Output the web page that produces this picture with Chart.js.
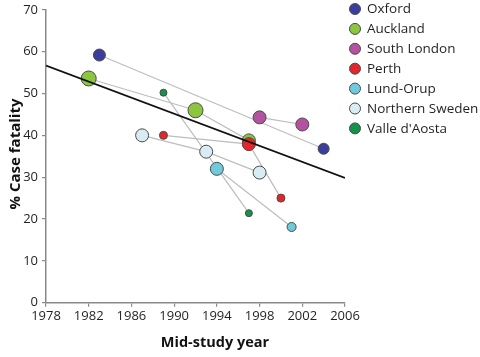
<!DOCTYPE html>
<html>
<head>
<meta charset="utf-8">
<script src="https://cdn.jsdelivr.net/npm/chart.js@4/dist/chart.umd.min.js"></script>
<style>
  html, body { margin: 0; padding: 0; background: #ffffff; }
  #wrap { width: 480px; height: 357px; }
</style>
</head>
<body>
<div id="wrap"><canvas id="c" width="480" height="357"></canvas></div>
<script>
// ---- Data ----
const seriesNames = ["Oxford", "Auckland", "South London", "Perth", "Lund-Orup", "Northern Sweden", "Valle d'Aosta"];

const oxfordYears = [1983, 2004];
const oxfordFatality = [59.2, 36.8];

const aucklandYears = [1982, 1992, 1997];
const aucklandFatality = [53.6, 46.0, 38.8];

const southLondonYears = [1998, 2002];
const southLondonFatality = [44.3, 42.6];

const perthYears = [1989, 1997, 2000];
const perthFatality = [40.0, 37.9, 25.0];

const lundYears = [1994, 2001];
const lundFatality = [32.0, 18.1];

const northSwedenYears = [1987, 1993, 1998];
const northSwedenFatality = [40.0, 36.1, 31.1];

const valleYears = [1989, 1997];
const valleFatality = [50.2, 21.4];

const trendYears = [1978, 2006];
const trendFatality = [56.7, 29.8];

const xTickValues = [1978, 1982, 1986, 1990, 1994, 1998, 2002, 2006];
const yTickValues = [0, 10, 20, 30, 40, 50, 60, 70];

// ---- Styles (kept separate from data) ----
const seriesColors = ["#3a3d9c", "#8cc63f", "#b5529f", "#e4252b", "#6fcadb", "#d8ecf4", "#12924a"];
const markerRadii = [
  [6, 5.5],
  [7.5, 7.5, 6.5],
  [6.5, 6.5],
  [4, 6.5, 4],
  [6.5, 4.5],
  [6.5, 6.5, 6.5],
  [3.5, 3.5]
];
// drawing order: lower = on top
const pointOrder = [7, 8, 5, 4, 3, 6, 2];

const seriesYears = [oxfordYears, aucklandYears, southLondonYears, perthYears, lundYears, northSwedenYears, valleYears];
const seriesValues = [oxfordFatality, aucklandFatality, southLondonFatality, perthFatality, lundFatality, northSwedenFatality, valleFatality];

function toPoints(xs, ys) { return xs.map((x, i) => ({ x: x, y: ys[i] })); }

const datasets = [];
// Regression line (on top)
datasets.push({
  label: "trend",
  data: toPoints(trendYears, trendFatality),
  showLine: true,
  borderColor: "#111111",
  borderWidth: 1.8,
  pointRadius: 0,
  pointHoverRadius: 0,
  order: 0
});
// Points per series
seriesNames.forEach((name, i) => {
  datasets.push({
    label: name,
    data: toPoints(seriesYears[i], seriesValues[i]),
    showLine: false,
    backgroundColor: seriesColors[i],
    borderColor: "#4a4a4a",
    borderWidth: 1,
    pointRadius: markerRadii[i],
    pointHoverRadius: markerRadii[i],
    order: pointOrder[i]
  });
});
// Grey connecting lines (bottom)
seriesNames.forEach((name, i) => {
  datasets.push({
    label: name + " link",
    data: toPoints(seriesYears[i], seriesValues[i]),
    showLine: true,
    borderColor: "#bdbdbd",
    borderWidth: 1.2,
    pointRadius: 0,
    pointHoverRadius: 0,
    order: 20 + i
  });
});

const FONT = "'Open Sans', 'DejaVu Sans', sans-serif";

const decorPlugin = {
  id: "decor",
  afterDraw(chart) {
    const ctx = chart.ctx;
    ctx.save();
    // Axis titles
    ctx.fillStyle = "#111111";
    ctx.font = "bold 15px " + FONT;
    ctx.textAlign = "center";
    ctx.textBaseline = "middle";
    ctx.save();
    ctx.translate(16, 154);
    ctx.rotate(-Math.PI / 2);
    ctx.fillText("% Case fatality", 0, 0);
    ctx.restore();
    ctx.font = "bold 14.5px " + FONT;
    ctx.fillText("Mid-study year", 215, 343);

    // Legend
    const lx = 355, ly0 = 9, step = 19.9;
    ctx.font = "13.5px " + FONT;
    ctx.textAlign = "left";
    ctx.textBaseline = "middle";
    seriesNames.forEach((name, i) => {
      const y = ly0 + i * step;
      ctx.beginPath();
      ctx.arc(lx, y, 5.5, 0, Math.PI * 2);
      ctx.fillStyle = seriesColors[i];
      ctx.fill();
      ctx.lineWidth = 1;
      ctx.strokeStyle = "#4a4a4a";
      ctx.stroke();
      ctx.fillStyle = "#231f20";
      ctx.fillText(name, 367, y + 0.5);
    });
    ctx.restore();
  }
};

new Chart(document.getElementById("c"), {
  type: "scatter",
  data: { datasets: datasets },
  options: {
    responsive: false,
    animation: false,
    events: [],
    layout: { padding: { left: 0, right: 135, top: 5, bottom: 0 } },
    plugins: {
      legend: { display: false },
      tooltip: { enabled: false }
    },
    scales: {
      x: {
        type: "linear",
        min: xTickValues[0],
        max: xTickValues[xTickValues.length - 1],
        afterBuildTicks(scale) { scale.ticks = xTickValues.map(v => ({ value: v })); },
        afterFit(scale) { scale.height = 54.3; },
        ticks: {
          color: "#231f20",
          font: { family: FONT, size: 13 },
          padding: 2,
          maxRotation: 0,
          autoSkip: false,
          callback: v => String(v)
        },
        grid: { display: true, drawOnChartArea: false, drawTicks: true, tickLength: 4, color: "#8a8a8a", lineWidth: 1.2 },
        border: { display: true, color: "#8a8a8a", width: 1.5 }
      },
      y: {
        type: "linear",
        min: yTickValues[0],
        max: yTickValues[yTickValues.length - 1],
        afterBuildTicks(scale) { scale.ticks = yTickValues.map(v => ({ value: v })); },
        afterFit(scale) { scale.width = 46; },
        ticks: {
          color: "#231f20",
          font: { family: FONT, size: 13, lineHeight: 0.9 },
          padding: 4,
          autoSkip: false,
          callback: v => String(v)
        },
        grid: { display: true, drawOnChartArea: false, drawTicks: true, tickLength: 4, color: "#8a8a8a", lineWidth: 1.2 },
        border: { display: true, color: "#8a8a8a", width: 1.5 }
      }
    }
  },
  plugins: [decorPlugin]
});
</script>
</body>
</html>
